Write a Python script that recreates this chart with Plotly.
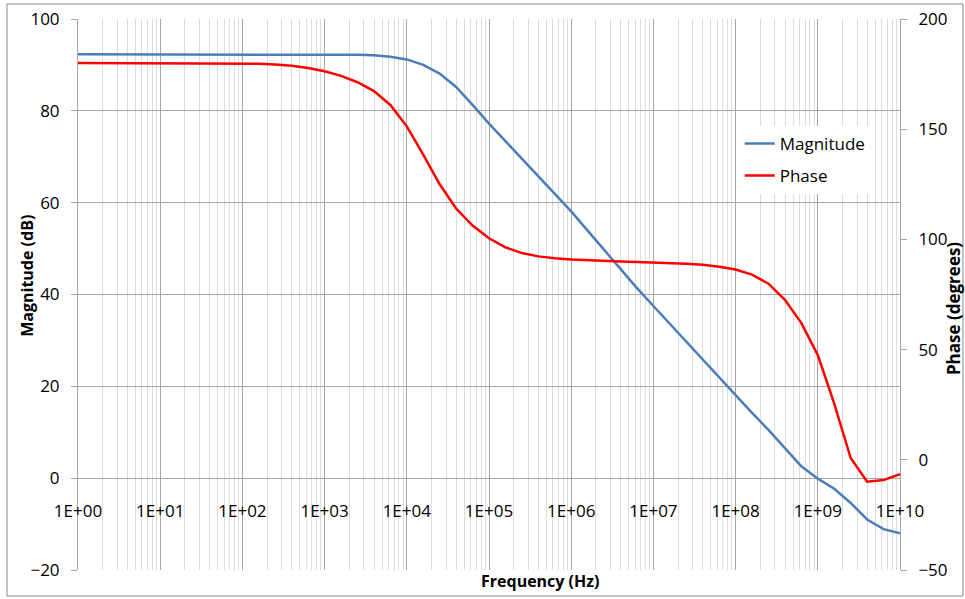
import plotly.graph_objects as go

# ---- data ----
log_freq = [0.0, 0.2, 0.4, 0.6, 0.8, 1.0, 1.2, 1.4, 1.6, 1.8,
            2.0, 2.2, 2.4, 2.6, 2.8, 3.0, 3.2, 3.4, 3.6, 3.8,
            4.0, 4.2, 4.4, 4.6, 4.8, 5.0, 5.2, 5.4, 5.6, 5.8,
            6.0, 6.2, 6.4, 6.6, 6.8, 7.0, 7.2, 7.4, 7.6, 7.8,
            8.0, 8.2, 8.4, 8.6, 8.8, 9.0, 9.2, 9.4, 9.6, 9.8, 10.0]
frequency = [10 ** e for e in log_freq]

magnitude_db = [92.3, 92.3, 92.3, 92.3, 92.3, 92.3, 92.3, 92.3, 92.3, 92.3,
                92.3, 92.3, 92.3, 92.3, 92.3, 92.3, 92.3, 92.2, 92.1, 91.8,
                91.2, 90.0, 88.1, 85.2, 81.3, 77.2, 73.4, 69.6, 65.8, 62.1,
                58.1, 53.9, 49.7, 45.5, 41.4, 37.5, 33.6, 29.7, 25.7, 21.8,
                18.0, 14.2, 10.5, 6.6, 2.6, -0.1, -2.3, -5.4, -9.0, -11.1, -12.0]

phase_deg = [180.0, 180.0, 180.0, 180.0, 180.0, 180.0, 180.0, 180.0, 180.0, 180.0,
             179.9, 179.7, 179.3, 178.8, 177.8, 176.3, 174.2, 171.3, 167.3, 161.0,
             151.3, 138.5, 125.0, 114.0, 106.3, 100.5, 96.4, 93.8, 92.3, 91.4,
             90.9, 90.5, 90.2, 90.0, 89.8, 89.6, 89.4, 89.0, 88.5, 87.6,
             86.3, 84.0, 79.9, 72.6, 62.0, 47.5, 25.5, 0.8, -9.9, -9.2, -6.5]

x_tick_vals = [1e0, 1e1, 1e2, 1e3, 1e4, 1e5, 1e6, 1e7, 1e8, 1e9, 1e10]
x_tick_text = ["1E+00", "1E+01", "1E+02", "1E+03", "1E+04", "1E+05",
               "1E+06", "1E+07", "1E+08", "1E+09", "1E+10"]
minor_vals = [m * 10 ** d for d in range(10) for m in range(2, 10)]

FONT = "Open Sans"
MAJOR = "#A6A6A6"
MINOR = "#DCDCDC"

fig = go.Figure()
fig.add_trace(go.Scatter(x=frequency, y=magnitude_db, name="Magnitude", mode="lines",
                         line=dict(color="#4A7EBB", width=2.5), legendgroup="a",
                         yaxis="y"))
fig.add_trace(go.Scatter(x=frequency, y=phase_deg, name="Phase", mode="lines",
                         line=dict(color="#FF0000", width=2.5), legendgroup="b",
                         yaxis="y2"))

fig.update_layout(
    width=965, height=599,
    margin=dict(l=78, r=65, t=19, b=29, autoexpand=False),
    paper_bgcolor="white", plot_bgcolor="white",
    font=dict(family=FONT, size=17, color="#000000"),
    showlegend=True,
    legend=dict(x=0.805, y=0.806, xanchor="left", yanchor="top",
                bgcolor="white", borderwidth=0, traceorder="grouped",
                tracegroupgap=7, font=dict(family=FONT, size=17)),
    xaxis=dict(type="log", range=[0, 10], tickmode="array",
               tickvals=x_tick_vals, ticktext=x_tick_text,
               showgrid=True, gridcolor=MAJOR, gridwidth=1,
               minor=dict(tickmode="array", tickvals=minor_vals, showgrid=True,
                          gridcolor=MINOR, gridwidth=1, ticks=""),
               anchor="free", position=1 / 6, showline=False, zeroline=False,
               ticks="", ticklabelstandoff=21, automargin=False,
               tickfont=dict(family=FONT, size=17)),
    yaxis=dict(range=[-20, 100], dtick=20, tick0=0, showgrid=True, gridcolor=MAJOR,
               zeroline=False, showline=True, linecolor=MAJOR, ticks="outside",
               ticklen=6, tickcolor=MAJOR, ticklabelstandoff=8, automargin=False,
               tickfont=dict(family=FONT, size=17)),
    yaxis2=dict(range=[-50, 200], dtick=50, tick0=0, overlaying="y", side="right",
                showgrid=False, zeroline=False, showline=True, linecolor=MAJOR,
                ticks="outside", ticklen=6, tickcolor=MAJOR, ticklabelstandoff=8,
                automargin=False, tickfont=dict(family=FONT, size=17)),
)

# axis titles
fig.add_annotation(text="<b>Magnitude (dB)</b>", xref="paper", yref="paper",
                   x=-0.062, y=0.534, textangle=-90, showarrow=False,
                   font=dict(family=FONT, size=16), xanchor="center", yanchor="middle")
fig.add_annotation(text="<b>Frequency (Hz)</b>", xref="paper", yref="paper",
                   x=0.562, y=-0.020, showarrow=False,
                   font=dict(family=FONT, size=16), xanchor="center", yanchor="middle")
fig.add_annotation(text="<b>Phase (degrees)</b>", xref="paper", yref="paper",
                   x=1.066, y=0.474, textangle=-90, showarrow=False,
                   font=dict(family=FONT, size=17), xanchor="center", yanchor="middle")

# chart border
fig.add_shape(type="rect", xref="paper", yref="paper",
              x0=-0.0864, x1=1.0766, y0=-0.0472, y1=1.0272,
              line=dict(color="#868686", width=1), layer="below")

fig.write_html("out.html", config={"displayModeBar": False},
               post_script="document.body.style.margin='0px';document.body.style.padding='0px';")
